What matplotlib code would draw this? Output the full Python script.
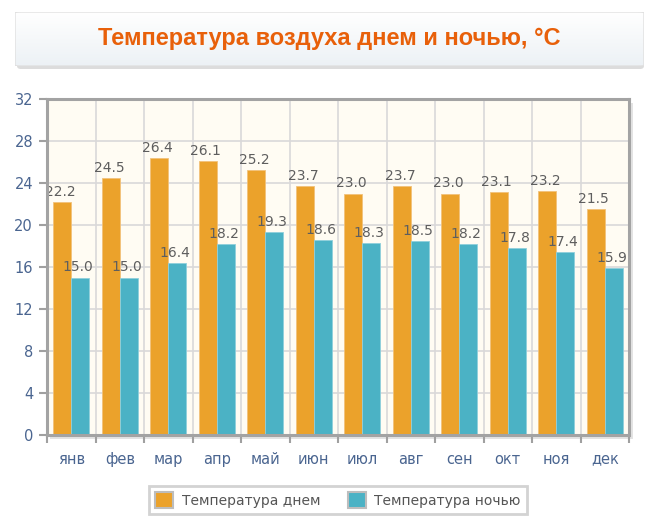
import numpy as np
import matplotlib
matplotlib.use("Agg")
import matplotlib.pyplot as plt
from matplotlib.patches import FancyBboxPatch, Rectangle

months = ["янв", "фев", "мар", "апр", "май", "июн", "июл", "авг", "сен", "окт", "ноя", "дек"]
day_temp = [22.2, 24.5, 26.4, 26.1, 25.2, 23.7, 23.0, 23.7, 23.0, 23.1, 23.2, 21.5]
night_temp = [15.0, 15.0, 16.4, 18.2, 19.3, 18.6, 18.3, 18.5, 18.2, 17.8, 17.4, 15.9]
y_ticks = [0, 4, 8, 12, 16, 20, 24, 28, 32]

day_color = "#EBA22B"
night_color = "#4BB2C5"
tick_color = "#4A6590"

plt.rcParams["font.family"] = ["DejaVu Sans"]

W, H = 659, 527
fig = plt.figure(figsize=(W / 100, H / 100), dpi=100)
fig.patch.set_facecolor("white")

# title box with a vertical gradient
shadow = FancyBboxPatch((17 / W, 1 - 69 / H), 627 / W, 54 / H,
                        boxstyle="round,pad=0,rounding_size=0.006",
                        transform=fig.transFigure, facecolor="#DCDCDC",
                        edgecolor="none", zorder=0)
fig.patches.append(shadow)
tax = fig.add_axes([15 / W, 1 - 66 / H, 629 / W, 54 / H])
tax.set_zorder(3)
tax.set_axis_off()
grad = np.linspace(0, 1, 100).reshape(-1, 1)
top_c = np.array([1.0, 1.0, 1.0])
bot_c = np.array([0xEC, 0xF1, 0xF5]) / 255
img = top_c * (1 - grad[..., None]) + bot_c * grad[..., None]
tax.imshow(img, aspect="auto", extent=[0, 1, 0, 1], origin="upper")
tax.set_xlim(0, 1)
tax.set_ylim(0, 1)
border = FancyBboxPatch((0, 0), 1, 1, boxstyle="round,pad=0,rounding_size=0.01",
                        transform=tax.transAxes, facecolor="none",
                        edgecolor="#E0E0E0", linewidth=1)
tax.add_patch(border)
tax.text(0.5, 0.5, "Температура воздуха днем и ночью, °C",
         ha="center", va="center", fontsize=17, fontweight="bold",
         color="#E8600A", family=["Liberation Sans", "DejaVu Sans"],
         transform=tax.transAxes)

# plot area
left, right, top, bottom = 47, 629, 99, 435
ax = fig.add_axes([left / W, 1 - bottom / H, (right - left) / W, (bottom - top) / H])
ax.set_zorder(3)
ax.set_facecolor("#FFFCF3")

x = np.arange(len(months))
bw = 0.37
b1 = ax.bar(x - bw / 2, day_temp, bw, color=day_color, edgecolor="#F2C27A",
            linewidth=0.6, zorder=3)
b2 = ax.bar(x + bw / 2, night_temp, bw, color=night_color, edgecolor="#8FD0DC",
            linewidth=0.6, zorder=3)

for rects, vals in [(b1, day_temp), (b2, night_temp)]:
    for r, v in zip(rects, vals):
        ax.text(r.get_x() + r.get_width() / 2 - 0.04, v + 0.3, f"{v:.1f}",
                ha="center", va="bottom", fontsize=10, color="#5E5E5E", zorder=4)

ax.set_xlim(-0.5, len(months) - 0.5)
ax.set_ylim(0, 32)
ax.set_yticks(y_ticks)
ax.set_xticks(x)
ax.set_xticklabels(months)
ax.set_xticks(np.arange(-0.5, len(months), 1.0), minor=True)

ax.grid(axis="y", color="#D9D9D9", linewidth=1.2, zorder=1)
ax.grid(axis="x", which="minor", color="#D9D9D9", linewidth=1.2, zorder=1)
ax.set_axisbelow(True)

ax.tick_params(axis="x", which="major", length=0, pad=12, labelsize=10.5, labelcolor=tick_color)
ax.tick_params(axis="x", which="minor", length=6, width=1.5, color="#A0A0A0", direction="out")
ax.tick_params(axis="y", length=6, width=1.5, color="#A0A0A0", labelsize=10.5,
               labelcolor=tick_color, pad=4)

for side in ["left", "top", "right", "bottom"]:
    ax.spines[side].set_color("#A3A3A3")
    ax.spines[side].set_linewidth(2.2)
    ax.spines[side].set_zorder(5)

# soft shadow right and bottom of plot area
fig.patches.append(Rectangle(((right + 1) / W, 1 - (bottom + 4) / H), 3 / W, (bottom - top) / H,
                             transform=fig.transFigure, facecolor="#E3E3E3", edgecolor="none", zorder=0))
fig.patches.append(Rectangle(((left + 3) / W, 1 - (bottom + 4) / H), (right - left) / W, 3 / H,
                             transform=fig.transFigure, facecolor="#E3E3E3", edgecolor="none", zorder=0))

leg = fig.legend([b1, b2], ["Температура днем", "Температура ночью"],
                 loc="center", bbox_to_anchor=(338 / W, 1 - 500 / H), ncol=2,
                 fontsize=10, frameon=True, fancybox=False, edgecolor="#C8C8C8",
                 handlelength=1.3, handleheight=1.3, columnspacing=2.0,
                 handletextpad=0.6, borderpad=0.45)
leg.get_frame().set_linewidth(2)
for t in leg.get_texts():
    t.set_color("#555555")
for h in leg.legend_handles:
    h.set_edgecolor("#BDBDBD")
    h.set_linewidth(1.5)

fig.savefig("out.png", dpi=100)
